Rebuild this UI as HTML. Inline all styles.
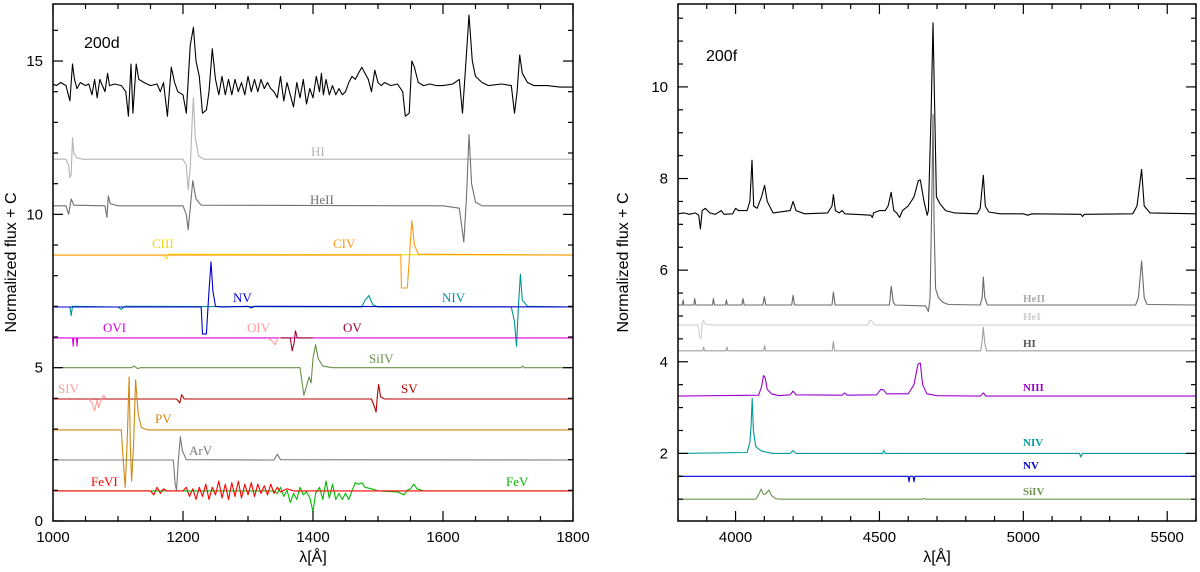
<!DOCTYPE html>
<html><head><meta charset="utf-8"><style>
html,body{margin:0;padding:0;background:#fff}
svg{display:block}
text{font-family:"Liberation Sans",sans-serif}
.lab{font-family:"Liberation Serif",serif}
</style></head><body>
<svg id="chart" width="1200" height="572" viewBox="0 0 1200 572" xmlns="http://www.w3.org/2000/svg"></svg>
<script>
// ---------- LEFT PANEL DATA (200d) ----------
const L_xTicks=[1000,1200,1400,1600,1800];
const L_yTicks=[0,5,10,15];
const L_obs=[[1000,14.25],[1005,14.2],[1012,14.3],[1020,14.2],[1026,13.7],[1030,14.9],[1033,14.4],[1037,14.1],[1042,14.3],[1050,14.2],[1055,14.25],[1060,13.9],[1064,14.4],[1068,13.8],[1072,14.4],[1076,14.2],[1080,14.0],[1084,14.6],[1087,14.2],[1095,14.25],[1105,14.2],[1112,14.0],[1116,13.2],[1120,14.9],[1123,13.3],[1128,14.9],[1132,14.4],[1140,14.3],[1150,14.2],[1160,14.25],[1165,14.0],[1170,14.3],[1176,13.2],[1182,14.8],[1187,14.3],[1192,14.0],[1200,13.9],[1205,13.3],[1211,15.5],[1216,16.1],[1220,15.0],[1225,14.5],[1230,13.3],[1236,13.4],[1240,14.0],[1245,15.4],[1250,14.4],[1255,13.9],[1260,14.5],[1265,13.9],[1270,14.4],[1275,13.9],[1280,14.4],[1285,14.0],[1290,14.3],[1295,13.9],[1300,14.5],[1305,14.0],[1310,14.4],[1315,14.0],[1320,14.4],[1325,14.1],[1330,14.3],[1335,14.1],[1340,14.0],[1345,13.8],[1350,14.5],[1355,13.7],[1360,14.3],[1365,13.9],[1370,13.5],[1375,14.3],[1380,13.8],[1385,14.4],[1390,13.6],[1395,14.1],[1400,13.8],[1405,14.5],[1410,14.0],[1413,14.6],[1416,13.9],[1420,14.4],[1425,13.9],[1430,14.2],[1435,13.9],[1440,14.1],[1445,13.9],[1450,14.0],[1455,14.3],[1460,14.5],[1465,14.4],[1470,14.6],[1475,14.8],[1480,14.6],[1485,14.4],[1490,14.0],[1495,14.7],[1500,14.3],[1505,14.2],[1510,14.3],[1520,14.2],[1530,14.25],[1538,14.0],[1542,13.2],[1548,13.3],[1552,15.0],[1556,14.8],[1562,14.3],[1570,14.2],[1580,14.25],[1590,14.2],[1600,14.2],[1615,14.25],[1625,14.4],[1630,13.3],[1636,15.2],[1640,16.5],[1645,15.0],[1650,14.5],[1660,14.3],[1670,14.2],[1690,14.25],[1705,14.2],[1710,13.3],[1714,14.0],[1718,15.2],[1722,14.6],[1730,14.3],[1740,14.2],[1760,14.2],[1780,14.15],[1800,14.15]];
const L_HI=[[1000,11.8],[1020,11.8],[1024,11.6],[1026,11.2],[1028,11.3],[1030,12.5],[1032,12.0],[1036,11.85],[1045,11.8],[1200,11.8],[1205,11.6],[1208,10.8],[1211,11.5],[1214,13.0],[1216,13.8],[1219,12.5],[1224,11.9],[1232,11.8],[1800,11.8]];
const L_HeII=[[1000,10.28],[1020,10.28],[1024,10.0],[1028,10.5],[1032,10.3],[1080,10.28],[1083,9.9],[1085,10.6],[1088,10.35],[1100,10.28],[1200,10.28],[1205,10.0],[1208,9.5],[1212,10.4],[1215,11.1],[1220,10.5],[1228,10.3],[1600,10.28],[1625,10.2],[1632,9.1],[1636,10.5],[1640,12.6],[1644,11.0],[1650,10.4],[1660,10.28],[1800,10.28]];
const L_CIII=[[1000,8.67],[1170,8.67],[1175,8.55],[1178,8.7],[1800,8.67]];
const L_CIV=[[1000,8.67],[1535,8.67],[1536,7.6],[1545,7.6],[1548,8.5],[1552,9.8],[1556,9.0],[1562,8.7],[1800,8.67]];
const L_NIV=[[1000,6.98],[1026,6.98],[1028,6.7],[1030,7.0],[1100,6.98],[1105,6.9],[1110,7.0],[1475,6.98],[1480,7.2],[1486,7.35],[1492,7.05],[1500,6.98],[1705,6.98],[1710,6.5],[1713,5.7],[1716,7.0],[1719,8.05],[1722,7.2],[1730,7.0],[1800,6.98]];
const L_NV=[[1000,6.98],[1228,6.98],[1230,6.1],[1236,6.1],[1240,7.5],[1243,8.45],[1246,7.5],[1250,7.0],[1260,6.98],[1300,7.0],[1305,6.95],[1310,7.0],[1800,6.98]];
const L_OVI=[[1000,5.97],[1030,5.97],[1031,5.7],[1032,5.97],[1036,5.97],[1037,5.7],[1038,5.97],[1800,5.97]];
const L_OIV=[[1330,5.97],[1338,5.85],[1342,5.75],[1346,5.95],[1350,5.97]];
const L_OV=[[1350,5.97],[1365,5.97],[1368,5.55],[1371,5.8],[1373,6.2],[1376,5.97],[1400,5.97]];
const L_SiIV=[[1000,5.0],[1120,5.0],[1125,5.05],[1130,4.97],[1135,5.0],[1380,5.0],[1386,4.1],[1390,4.4],[1394,4.7],[1397,4.5],[1400,5.3],[1404,5.75],[1408,5.3],[1415,5.05],[1430,5.0],[1720,5.0],[1722,5.05],[1725,5.0],[1800,5.0]];
const L_SV=[[1000,3.98],[1190,3.98],[1195,3.85],[1198,4.12],[1202,3.98],[1490,3.98],[1494,3.75],[1497,3.55],[1499,4.1],[1501,4.45],[1504,4.05],[1510,3.98],[1800,3.98]];
const L_SIV=[[1055,3.98],[1060,3.85],[1064,3.6],[1068,3.95],[1070,3.7],[1074,3.95],[1078,4.1],[1082,3.98]];
const L_PV=[[1000,2.97],[1105,2.97],[1108,2.0],[1111,1.1],[1114,2.5],[1117,4.7],[1119,2.5],[1121,1.3],[1124,2.5],[1127,4.6],[1131,3.5],[1136,3.05],[1145,2.97],[1800,2.97]];
const L_ArV=[[1000,1.99],[1185,1.99],[1188,1.2],[1190,1.0],[1193,2.0],[1196,2.75],[1199,2.3],[1205,2.0],[1340,1.99],[1345,2.18],[1350,2.0],[1800,1.99]];
const L_FeV=[[1000,0.98],[1340,0.98],[1345,0.9],[1350,1.1],[1355,0.8],[1360,1.0],[1365,0.6],[1370,0.9],[1375,0.7],[1380,1.1],[1385,0.85],[1390,0.95],[1395,0.75],[1400,0.3],[1404,0.9],[1410,1.1],[1415,0.7],[1420,1.3],[1425,0.75],[1430,1.2],[1435,0.7],[1440,0.9],[1445,0.7],[1450,0.9],[1455,0.7],[1460,0.98],[1465,1.25],[1470,1.2],[1475,1.25],[1480,1.1],[1490,1.05],[1500,0.98],[1530,0.95],[1540,0.85],[1545,1.0],[1550,1.05],[1555,1.2],[1560,1.05],[1570,0.98],[1800,0.98]];
const L_FeVI=[[1000,0.98],[1150,0.98],[1155,0.85],[1160,1.1],[1165,0.9],[1170,1.05],[1175,0.98],[1200,0.98],[1205,1.1],[1210,0.8],[1215,1.05],[1220,0.7],[1225,1.1],[1230,0.8],[1235,1.2],[1240,0.7],[1245,1.1],[1250,0.85],[1255,1.3],[1260,0.75],[1265,1.2],[1270,0.7],[1275,1.25],[1280,0.8],[1285,1.3],[1290,0.75],[1295,1.2],[1300,0.85],[1305,1.25],[1310,0.8],[1315,1.2],[1320,0.9],[1325,1.15],[1330,0.85],[1335,1.2],[1340,0.9],[1345,1.1],[1350,0.95],[1360,1.05],[1370,0.98],[1800,0.98]];

// ---------- RIGHT PANEL DATA (200f) ----------
const R_xTicks=[4000,4500,5000,5500];
const R_yTicks=[2,4,6,8,10];
const R_obs=[[3800,7.23],[3820,7.25],[3840,7.22],[3860,7.25],[3872,7.2],[3878,6.9],[3884,7.3],[3895,7.35],[3910,7.25],[3930,7.22],[3950,7.3],[3960,7.22],[3990,7.23],[4000,7.35],[4010,7.3],[4040,7.3],[4050,7.5],[4057,8.4],[4063,7.4],[4075,7.35],[4090,7.6],[4101,7.85],[4110,7.5],[4130,7.25],[4190,7.3],[4200,7.5],[4210,7.3],[4240,7.23],[4320,7.25],[4335,7.4],[4340,7.65],[4347,7.3],[4360,7.25],[4370,7.3],[4380,7.23],[4470,7.2],[4475,7.15],[4480,7.25],[4500,7.3],[4520,7.3],[4530,7.4],[4541,7.7],[4550,7.3],[4560,7.25],[4570,7.15],[4580,7.3],[4600,7.4],[4620,7.6],[4635,7.95],[4642,7.97],[4655,7.5],[4666,7.2],[4670,7.3],[4680,9.5],[4686,11.4],[4692,9.5],[4698,7.6],[4710,7.45],[4730,7.3],[4760,7.25],[4840,7.23],[4850,7.35],[4861,8.07],[4868,7.4],[4880,7.27],[4920,7.23],[5000,7.23],[5015,7.2],[5030,7.23],[5200,7.22],[5206,7.17],[5212,7.22],[5380,7.23],[5395,7.4],[5411,8.2],[5420,7.4],[5440,7.25],[5600,7.23]];
const R_HeII=[[3800,5.24],[3815,5.24],[3818,5.35],[3820,5.24],[3855,5.24],[3858,5.38],[3862,5.24],[3920,5.24],[3923,5.38],[3927,5.24],[3965,5.24],[3968,5.35],[3972,5.24],[4022,5.24],[4026,5.38],[4030,5.24],[4095,5.24],[4100,5.42],[4105,5.24],[4195,5.24],[4200,5.45],[4205,5.24],[4335,5.24],[4340,5.52],[4346,5.24],[4535,5.24],[4541,5.65],[4548,5.3],[4555,5.24],[4660,5.22],[4670,5.1],[4676,5.4],[4682,7.5],[4686,9.4],[4690,7.0],[4695,5.6],[4705,5.4],[4720,5.3],[4740,5.25],[4850,5.24],[4857,5.4],[4861,5.85],[4866,5.4],[4875,5.24],[5390,5.24],[5400,5.4],[5411,6.2],[5420,5.4],[5430,5.25],[5600,5.24]];
const R_HeI=[[3800,4.8],[3870,4.8],[3875,4.55],[3880,4.5],[3884,4.85],[3889,4.9],[3895,4.82],[3920,4.8],[4460,4.8],[4465,4.9],[4472,4.9],[4480,4.82],[4490,4.8],[5600,4.8]];
const R_HI=[[3800,4.24],[3886,4.24],[3889,4.32],[3892,4.24],[3967,4.24],[3970,4.32],[3973,4.24],[4098,4.24],[4101,4.36],[4104,4.24],[4336,4.24],[4340,4.44],[4344,4.24],[4852,4.24],[4856,4.4],[4861,4.75],[4866,4.4],[4872,4.24],[5600,4.24]];
const R_NIII=[[3800,3.25],[4080,3.27],[4090,3.45],[4097,3.7],[4103,3.65],[4110,3.4],[4125,3.3],[4150,3.26],[4190,3.28],[4200,3.36],[4210,3.28],[4370,3.27],[4379,3.32],[4388,3.27],[4490,3.28],[4505,3.4],[4515,3.38],[4525,3.3],[4600,3.3],[4620,3.5],[4634,3.95],[4642,3.97],[4650,3.5],[4665,3.3],[4700,3.26],[4850,3.25],[4861,3.32],[4870,3.25],[5600,3.25]];
const R_NIV=[[3800,2.0],[4040,2.02],[4050,2.25],[4054,2.6],[4058,3.2],[4062,2.5],[4070,2.15],[4090,2.05],[4130,2.0],[4190,2.0],[4200,2.06],[4210,2.0],[4510,2.0],[4515,2.06],[4520,2.0],[5195,2.0],[5200,1.92],[5205,2.0],[5600,2.0]];
const R_NV=[[3800,1.5],[4600,1.5],[4603,1.38],[4606,1.5],[4617,1.5],[4620,1.38],[4623,1.5],[5600,1.5]];
const R_SiIV=[[3800,1.0],[4070,1.0],[4080,1.1],[4089,1.22],[4095,1.12],[4102,1.1],[4116,1.2],[4125,1.08],[4140,1.01],[4160,1.0],[4650,1.0],[4655,1.02],[4660,1.0],[5600,1.0]];

const NS='http://www.w3.org/2000/svg';
const svg=document.getElementById('chart');
function mk(tag,attrs,parent){const e=document.createElementNS(NS,tag);for(const k in attrs)e.setAttribute(k,attrs[k]);(parent||svg).appendChild(e);return e;}

function panel(o){
  const g=mk('g',{});
  
  
  const sx=v=>o.x0+(v-o.xmin)/(o.xmax-o.xmin)*(o.x1-o.x0);
  const sy=v=>o.y1-(v-o.ymin)/(o.ymax-o.ymin)*(o.y1-o.y0);
  o.series.forEach(s=>{
    const pts=s.data.map(p=>sx(p[0]).toFixed(1)+','+sy(p[1]).toFixed(1)).join(' ');
    const pl=mk('polyline',{points:pts,fill:'none',stroke:s.color,'stroke-width':s.w||1.1,'stroke-linejoin':'round'},g);
    
    
  });
  const fr=mk('rect',{x:o.x0,y:o.y0,width:o.x1-o.x0,height:o.y1-o.y0,fill:'none',stroke:'#000','stroke-width':1.5},g);
  
  
  for(let v=o.xmin;v<=o.xmax+1e-6;v+=o.xminor){
    const major=o.xTicks.some(t=>Math.abs(t-v)<1e-6);const L=major?10:5;const X=sx(v);
    mk('line',{x1:X,y1:o.y1,x2:X,y2:o.y1-L,stroke:'#000','stroke-width':1.2},g);
    mk('line',{x1:X,y1:o.y0,x2:X,y2:o.y0+L,stroke:'#000','stroke-width':1.2},g);
  }
  for(let v=Math.ceil(o.ymin/o.yminor)*o.yminor;v<=o.ymax;v+=o.yminor){
    const major=o.yTicks.some(t=>Math.abs(t-v)<1e-6);const L=major?10:5;const Y=sy(v);
    mk('line',{x1:o.x0,y1:Y,x2:o.x0+L,y2:Y,stroke:'#000','stroke-width':1.2},g);
    mk('line',{x1:o.x1,y1:Y,x2:o.x1-L,y2:Y,stroke:'#000','stroke-width':1.2},g);
  }
  o.xTicks.forEach(t=>{
    const tx=mk('text',{x:sx(t),y:o.y1+21,'font-size':15,'text-anchor':'middle'},g);tx.textContent=t;
    
    
  });
  o.yTicks.forEach(t=>{
    const tx=mk('text',{x:o.x0-10,y:sy(t)+5,'font-size':15,'text-anchor':'end'},g);tx.textContent=t;
    
    
  });
  const xt=mk('text',{x:(o.x0+o.x1)/2,y:562,'font-size':16,'text-anchor':'middle'},g);xt.textContent='λ[Å]';
  
  
  const cy=(o.y0+o.y1)/2;
  const yt=mk('text',{x:o.ytx,y:cy,'font-size':16,'text-anchor':'middle',transform:`rotate(-90 ${o.ytx} ${cy})`},g);yt.textContent='Normalized flux + C';
  
  
  const tt=mk('text',{x:o.tx,y:o.ty,'font-size':16},g);tt.textContent=o.title;
  
  
  o.labels.forEach(l=>{
    const t=mk('text',{x:l[1],y:l[2],fill:l[3],'font-size':o.lfs,'class':'lab','font-weight':o.lbold?'bold':'normal'},g);t.textContent=l[0];
    
    
  });
}

panel({name:'left-panel-200d',x0:53,x1:573,y0:4,y1:521,xmin:1000,xmax:1800,ymin:0,ymax:16.86,xminor:50,yminor:1,
  xTicks:L_xTicks,yTicks:L_yTicks,ytx:16,title:'200d',tx:84,ty:48,lfs:13,lbold:false,
  series:[
    {id:'hi-line',data:L_HI,color:'#b4b4b4'},
    {id:'heii-line',data:L_HeII,color:'#707070'},
    {id:'ciii-line',data:L_CIII,color:'#ffe000'},
    {id:'civ-line',data:L_CIV,color:'#ff9a10'},
    {id:'niv-line',data:L_NIV,color:'#009595'},
    {id:'nv-line',data:L_NV,color:'#0000cc'},
    {id:'ovi-line',data:L_OVI,color:'#dd00dd'},
    {id:'oiv-line',data:L_OIV,color:'#ff9aa0'},
    {id:'ov-line',data:L_OV,color:'#a00030'},
    {id:'siiv-line',data:L_SiIV,color:'#6a9048'},
    {id:'sv-line',data:L_SV,color:'#b40000'},
    {id:'siv-line',data:L_SIV,color:'#ff9a9a'},
    {id:'pv-line',data:L_PV,color:'#d08a10'},
    {id:'arv-line',data:L_ArV,color:'#7a7a7a'},
    {id:'fev-line',data:L_FeV,color:'#00bb00'},
    {id:'fevi-line',data:L_FeVI,color:'#ff0000'},
    {id:'observed-spectrum-200d',data:L_obs,color:'#000'}
  ],
  labels:[['HI',311,156,'#b4b4b4'],['HeII',310,204,'#707070'],['CIII',152,248,'#f0d800'],['CIV',333,248,'#ff9a10'],
    ['NV',233,302,'#0000cc'],['NIV',442,302,'#009595'],['OVI',103,332,'#dd00dd'],['OIV',247,332,'#ff9aa0'],['OV',343,332,'#a00030'],
    ['SiIV',369,363,'#6a9048'],['SIV',58,393,'#ff9a9a'],['SV',401,393,'#b40000'],['PV',155,423,'#d08a10'],['ArV',189,455,'#7a7a7a'],
    ['FeVI',91,486,'#ff0000'],['FeV',506,486,'#00bb00']]
});

panel({name:'right-panel-200f',x0:678,x1:1196,y0:4,y1:521,xmin:3800,xmax:5600,ymin:0.524,ymax:11.81,xminor:100,yminor:0.5,
  xTicks:R_xTicks,yTicks:R_yTicks,ytx:628,title:'200f',tx:706,ty:61,lfs:11,lbold:true,
  series:[
    {id:'heii-line',data:R_HeII,color:'#6a6a6a'},
    {id:'hei-line',data:R_HeI,color:'#cfcfcf'},
    {id:'hi-line',data:R_HI,color:'#a0a0a0'},
    {id:'niii-line',data:R_NIII,color:'#9a00cc'},
    {id:'niv-line',data:R_NIV,color:'#009a9a'},
    {id:'nv-line',data:R_NV,color:'#0000dd'},
    {id:'siiv-line',data:R_SiIV,color:'#6e9650'},
    {id:'observed-spectrum-200f',data:R_obs,color:'#000'}
  ],
  labels:[['HeII',1023,302,'#aaaaaa'],['HeI',1023,320,'#cccccc'],['HI',1023,347,'#555555'],['NIII',1023,391,'#9a00cc'],
    ['NIV',1023,446,'#009a9a'],['NV',1023,469,'#0000dd'],['SiIV',1023,495,'#6e9650']]
});
</script>
</body></html>
